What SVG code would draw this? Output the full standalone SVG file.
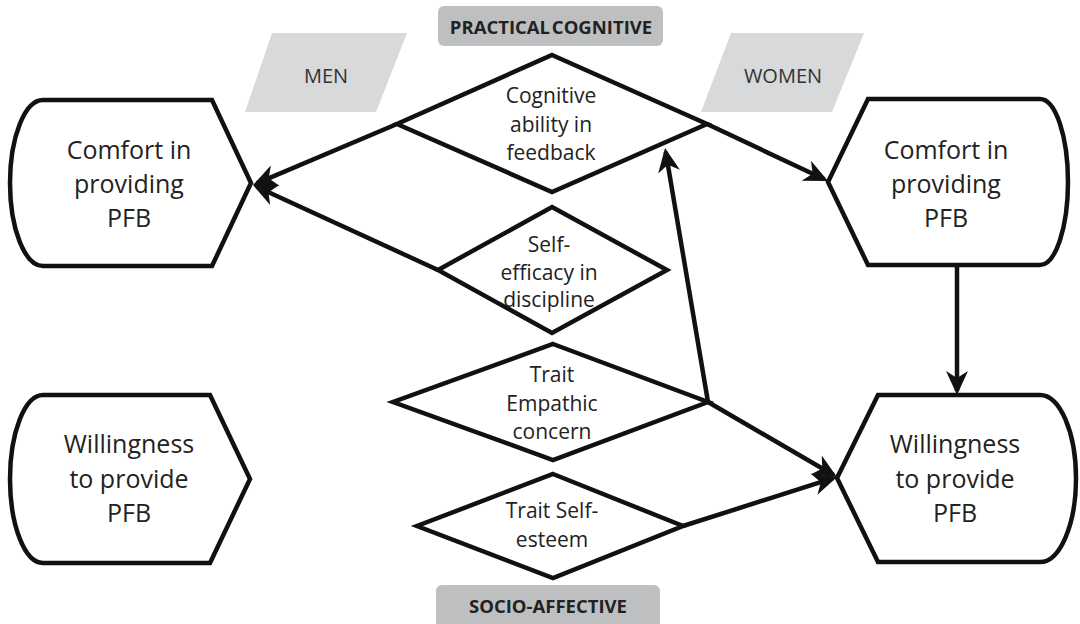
<svg xmlns="http://www.w3.org/2000/svg" width="1080" height="624" viewBox="0 0 1080 624">
<defs>
<style>
.node{fill:#fff;stroke:#111;stroke-width:4.5;stroke-linejoin:miter}
.dia{fill:#fff;stroke:#111;stroke-width:4.5;stroke-linejoin:miter}
.big{font-family:"Open Sans","Liberation Sans",sans-serif;font-size:25px;fill:#222;text-anchor:middle}
.mid{font-family:"Open Sans","Liberation Sans",sans-serif;font-size:21px;fill:#222;text-anchor:middle}
.tag{font-family:"Open Sans","Liberation Sans",sans-serif;font-size:20px;fill:#333;text-anchor:middle}
.hdr{font-family:"Open Sans","Liberation Sans",sans-serif;font-size:18.5px;font-weight:bold;fill:#222;text-anchor:middle}
.gray{fill:#d8d9da}
.box{fill:#bebfc1}
.conn line{stroke:#111;stroke-width:4.5;marker-end:url(#ah)}
</style>
<marker id="ah" markerUnits="userSpaceOnUse" markerWidth="30" markerHeight="26" viewBox="-22 -13 30 26" refX="0" refY="0" orient="auto">
<path d="M4,0 L-20,-11 L-13,0 L-20,11 Z" fill="#111"/>
</marker>
</defs>
<rect width="1080" height="624" fill="#fff"/>

<g id="label-practical">
<rect class="box" x="438" y="6" width="225" height="40" rx="6"/>
<text class="hdr" x="551" y="34" word-spacing="-3">PRACTICAL COGNITIVE</text>
</g>
<g id="label-socio">
<rect class="box" x="436" y="585" width="224" height="44" rx="6"/>
<text class="hdr" x="548" y="613">SOCIO-AFFECTIVE</text>
</g>
<g id="label-men">
<polygon class="gray" points="272,33 407,33 376,112 245,112"/>
<text class="tag" x="326" y="83">MEN</text>
</g>
<g id="label-women">
<polygon class="gray" points="731,33 864,33 832,112 701,112"/>
<text class="tag" x="783" y="83">WOMEN</text>
</g>

<g id="comfort-men">
<path class="node" d="M43,100 L212,100 L251,183 L212,266 L43,266 A33,83 0 0 1 43,100 Z"/>
<text class="big" x="129" y="159">Comfort in</text>
<text class="big" x="129" y="193">providing</text>
<text class="big" x="129" y="227">PFB</text>
</g>
<g id="willingness-men">
<path class="node" d="M43,395 L210,395 L250,479 L210,563 L43,563 A33,84 0 0 1 43,395 Z"/>
<text class="big" x="129" y="453">Willingness</text>
<text class="big" x="129" y="488">to provide</text>
<text class="big" x="129" y="522">PFB</text>
</g>
<g id="comfort-women">
<path class="node" d="M868,99 L1040,99 A28,83 0 0 1 1040,265 L868,265 L828,182 Z"/>
<text class="big" x="946" y="159">Comfort in</text>
<text class="big" x="946" y="193">providing</text>
<text class="big" x="946" y="227">PFB</text>
</g>
<g id="willingness-women">
<path class="node" d="M878,395 L1040,395 A36,83.5 0 0 1 1040,562 L878,562 L837,478 Z"/>
<text class="big" x="955" y="453">Willingness</text>
<text class="big" x="955" y="488">to provide</text>
<text class="big" x="955" y="522">PFB</text>
</g>

<g id="cognitive">
<polygon class="dia" points="552,55 707,124 552,192 397,124"/>
<text class="mid" x="551" y="103">Cognitive</text>
<text class="mid" x="551" y="132">ability in</text>
<text class="mid" x="551" y="160">feedback</text>
</g>
<g id="selfefficacy">
<polygon class="dia" points="552,207 667,270 552,333 438,270"/>
<text class="mid" x="549" y="252">Self-</text>
<text class="mid" x="549" y="280">efficacy in</text>
<text class="mid" x="549" y="307">discipline</text>
</g>
<g id="empathic">
<polygon class="dia" points="553,344 708,402 553,460 393,402"/>
<text class="mid" x="552" y="382">Trait</text>
<text class="mid" x="552" y="411">Empathic</text>
<text class="mid" x="552" y="439">concern</text>
</g>
<g id="selfesteem">
<polygon class="dia" points="553,474 683,526 553,578 417,526"/>
<text class="mid" x="552" y="518">Trait Self-</text>
<text class="mid" x="552" y="547">esteem</text>
</g>

<g id="connectors" class="conn">
<line x1="397" y1="124" x2="256.7" y2="183.4"/>
<line x1="438" y1="270" x2="256.6" y2="186.7"/>
<line x1="707" y1="124" x2="824.4" y2="179.3"/>
<line x1="708" y1="402" x2="665.7" y2="151.9"/>
<line x1="708" y1="402" x2="833.5" y2="475"/>
<line x1="683" y1="526" x2="833.2" y2="478.2"/>
<line x1="957" y1="265" x2="957" y2="391"/>
</g>
</svg>
